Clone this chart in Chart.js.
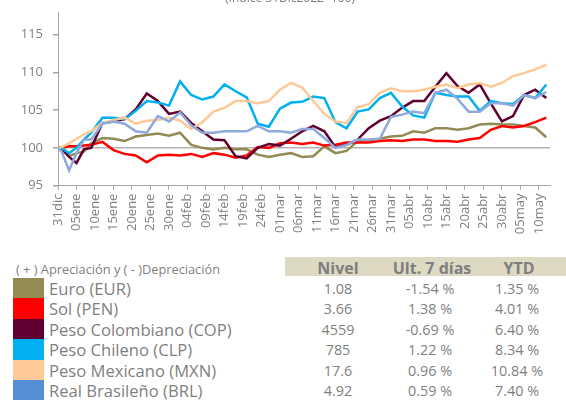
<!DOCTYPE html>
<html>
<head>
<meta charset="utf-8">
<script src="https://cdn.jsdelivr.net/npm/chart.js@4.4.0/dist/chart.umd.min.js"></script>
<style>
  body { margin: 0; background: #fff; font-family: 'Open Sans', sans-serif; color: #7f7f7f; }
  #wrap { position: relative; width: 566px; height: 400px; overflow: hidden; }
  #grafico { position: absolute; left: 0; top: 0; }
  .abs { position: absolute; white-space: nowrap; }
  .titulo { top: -9px; left: 190px; width: 200px; text-align: center; font-size: 12px; line-height: 14px; }
  .nota { left: 16px; top: 261px; font-size: 12.8px; line-height: 16px; }
  .banda { left: 285px; top: 257px; width: 281px; height: 19px; background: #ddd9c3; }
  .cab { top: 257px; height: 20px; line-height: 22px; font-size: 16px; font-weight: bold; text-align: center; width: 120px; }
  .fila { height: 20.5px; line-height: 21px; }
  .sw { left: 13px; width: 31px; }
  .nom { left: 49px; font-size: 16.6px; }
  .num { font-size: 14.4px; text-align: center; width: 100px; }
</style>
</head>
<body>
<div id="wrap">
  <canvas id="grafico" width="566" height="250"></canvas>
  <div class="abs titulo">(Índice 31Dic2022=100)</div>
  <div class="abs nota">( + ) Apreciación y ( - )Depreciación</div>
  <div class="abs banda"></div>
  <div id="tabla"></div>
</div>
<script>
// dias desde el 31dic2022
const dias = [0, 1, 3, 5, 7, 9, 12, 15, 18, 21, 24, 27, 30, 33,
  36, 39, 42, 45, 48, 51, 54, 57, 60, 63, 66,
  69, 72, 75, 78, 81, 84, 87, 90, 93, 96, 99,
  102, 105, 108, 111, 114, 117, 120, 123, 126, 129, 132];

const eur = [100, 99.8, 98.9, 99.3, 99.5, 100.6, 101.3, 101.2, 100.9, 101.5, 101.7, 101.9, 101.6, 102.0,
  100.4, 100.0, 99.8, 100.0, 99.8, 99.8, 99.1, 98.8, 99.1, 99.3, 98.8,
  98.9, 100.2, 99.3, 99.6, 100.9, 101.0, 101.2, 101.5, 101.6, 102.2, 102.0,
  102.6, 102.6, 102.4, 102.6, 103.1, 103.2, 103.1, 103.1, 102.9, 102.7, 101.4];
const pen = [100, 100.0, 100.2, 100.2, 100.3, 100.4, 100.8, 99.7, 99.2, 99.0, 98.1, 99.0, 99.1, 99.0,
  99.2, 98.8, 99.3, 99.1, 98.7, 99.0, 100.1, 100.0, 100.6, 100.7, 100.5,
  100.7, 100.3, 100.4, 100.7, 100.7, 100.7, 100.9, 101.0, 100.9, 101.1, 101.1,
  100.9, 100.9, 100.8, 101.1, 101.3, 102.4, 102.9, 102.7, 102.9, 103.4, 104.0];
const cop = [100, 99.9, 98.8, 98.0, 99.8, 100.0, 103.3, 103.5, 103.8, 105.1, 107.2, 106.2, 104.5, 104.8,
  103.3, 102.2, 101.1, 101.0, 98.9, 98.6, 100.0, 100.5, 100.3, 101.2, 102.2,
  102.9, 102.2, 100.1, 100.4, 101.1, 102.6, 103.6, 104.2, 105.3, 106.2, 106.2,
  108.1, 109.9, 108.2, 107.3, 108.4, 105.9, 103.5, 104.2, 107.0, 107.7, 106.6];
const clp = [100, 100.0, 99.3, 100.0, 101.1, 102.0, 104.0, 104.0, 103.8, 104.9, 106.2, 106.0, 105.6, 108.8,
  107.0, 106.4, 106.8, 108.4, 107.5, 106.7, 103.2, 102.8, 105.2, 106.0, 106.1,
  106.8, 106.6, 103.4, 102.6, 104.8, 105.1, 106.6, 107.3, 105.5, 104.3, 104.0,
  107.3, 107.0, 106.8, 106.8, 104.9, 106.2, 105.9, 105.8, 107.0, 106.6, 108.4];
const mxn = [100, 100.1, 100.6, 101.2, 101.8, 102.2, 103.3, 103.7, 104.0, 103.2, 103.6, 103.7, 104.0, 103.6,
  102.5, 103.4, 104.8, 105.3, 106.2, 106.2, 105.9, 106.2, 107.7, 108.6, 108.0,
  106.2, 104.5, 103.5, 103.3, 105.4, 105.8, 107.3, 107.9, 107.5, 107.5, 107.7,
  108.1, 108.4, 107.9, 108.4, 108.6, 108.1, 108.6, 109.5, 109.9, 110.4, 111.0];
const brl = [100, 99.5, 97.0, 99.3, 101.1, 101.1, 103.2, 103.5, 103.2, 102.2, 102.0, 104.2, 103.5, 104.7,
  103.0, 102.0, 102.0, 102.2, 102.2, 102.2, 102.9, 102.2, 102.2, 102.0, 102.5,
  102.5, 101.3, 100.0, 100.4, 101.1, 101.1, 101.2, 104.1, 104.4, 104.8, 104.6,
  107.3, 107.7, 106.5, 104.8, 104.8, 105.9, 105.9, 105.6, 107.0, 106.6, 107.4];

const monedas = ['Euro (EUR)', 'Sol (PEN)', 'Peso Colombiano (COP)', 'Peso Chileno (CLP)', 'Peso Mexicano (MXN)', 'Real Brasileño (BRL)'];
const nivel = ['1.08', '3.66', '4559', '785', '17.6', '4.92'];
const ult7 = ['-1.54 %', '1.38 %', '-0.69 %', '1.22 %', '0.96 %', '0.59 %'];
const ytd = ['1.35 %', '4.01 %', '6.40 %', '8.34 %', '10.84 %', '7.40 %'];

const series = [eur, pen, cop, clp, mxn, brl];
const colLinea = ['#948a54', '#ff0000', '#600030', '#00b0f0', '#ffc997', '#8eaadb'];
const colCuadro = ['#948a54', '#ff0000', '#600030', '#00b0f0', '#ffc997', '#558ed5'];

const meses = ['ene', 'feb', 'mar', 'abr', 'may', 'jun', 'jul', 'ago', 'sep', 'oct', 'nov', 'dic'];
function etiqueta(d) {
	const f = new Date(2022, 11, 31 + d);
	return String(f.getDate()).padStart(2, '0') + meses[f.getMonth()];
}

const ctx = document.getElementById('grafico').getContext('2d');
new Chart(ctx, {
	type: 'line',
	data: {
		datasets: series.map((s, i) => ({
			label: monedas[i],
			data: dias.map((d, j) => ({ x: d, y: s[j] })),
			borderColor: colLinea[i],
			borderWidth: 2.5,
			pointRadius: 0,
			tension: 0,
			fill: false,
			order: series.length - i,
		})),
	},
	options: {
		responsive: false,
		animation: false,
		layout: { padding: { top: 12, right: 16, left: 0, bottom: 0 } },
		plugins: { legend: { display: false }, tooltip: { enabled: false } },
		scales: {
			x: {
				type: 'linear',
				min: 0,
				max: 133,
				border: { color: '#a6a6a6', width: 1 },
				grid: { drawOnChartArea: false, tickColor: '#a6a6a6', tickLength: 4 },
				ticks: {
					stepSize: 5,
					includeBounds: false,
					minRotation: 90,
					maxRotation: 90,
					padding: 4,
					color: '#808080',
					font: { family: 'Open Sans', size: 13 },
					callback: (v) => etiqueta(v),
				},
				afterFit: (s) => { s.height = 64.4; s.paddingLeft = 0; s.paddingRight = 0; },
			},
			y: {
				min: 95,
				max: 118,
				border: { color: '#a6a6a6', width: 1 },
				grid: {
					color: (c) => (c.tick && c.tick.value === 100 ? '#b4b4b4' : 'transparent'),
					lineWidth: 1.5,
					tickColor: '#a6a6a6',
					tickLength: 5,
				},
				ticks: {
					stepSize: 5,
					includeBounds: false,
					padding: 10,
					color: '#808080',
					font: { family: 'Open Sans', size: 13 },
				},
				afterFit: (s) => { s.width = 58; s.paddingTop = 0; s.paddingBottom = 0; },
			},
		},
	},
});

// tabla de abajo
const tabla = document.getElementById('tabla');
let html = '';
html += '<div class="abs cab" style="left:278px">Nivel</div>';
html += '<div class="abs cab" style="left:372px">Ult. 7 días</div>';
html += '<div class="abs cab" style="left:459px">YTD</div>';
monedas.forEach((m, i) => {
	const top = 277.5 + 20.5 * i;
	html += `<div class="abs fila sw" style="top:${top}px;background:${colCuadro[i]}"></div>`;
	html += `<div class="abs fila nom" style="top:${top}px">${m}</div>`;
	html += `<div class="abs fila num" style="top:${top}px;left:288px">${nivel[i]}</div>`;
	html += `<div class="abs fila num" style="top:${top}px;left:380px">${ult7[i]}</div>`;
	html += `<div class="abs fila num" style="top:${top}px;left:467px">${ytd[i]}</div>`;
});
tabla.innerHTML = html;
</script>
</body>
</html>
